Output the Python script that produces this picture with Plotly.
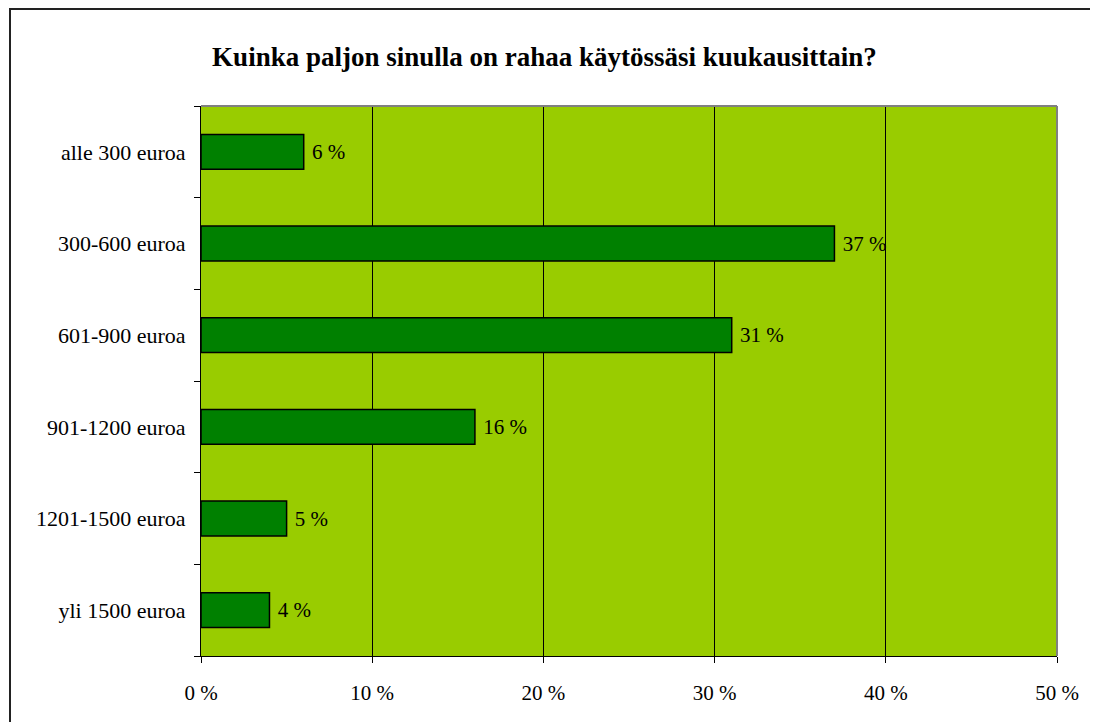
import plotly.graph_objects as go

categories = ["alle 300 euroa", "300-600 euroa", "601-900 euroa",
              "901-1200 euroa", "1201-1500 euroa", "yli 1500 euroa"]
values = [6, 37, 31, 16, 5, 4]
labels = [f" {v} %" for v in values]
title = "Kuinka paljon sinulla on rahaa käytössäsi kuukausittain?"

OFF = 8  # page body margin
W, H = 1098 - OFF, 722 - OFF
L, R, T, B = 201 - OFF, 1057 - OFF, 106 - OFF, 656 - OFF
pw, ph = R - L, B - T
FONT = "Liberation Serif"

fig = go.Figure(go.Bar(
    y=categories, x=values, orientation="h",
    marker=dict(color="#008000", line=dict(color="black", width=1.5)),
    width=0.38,
    text=labels, textposition="outside",
    textfont=dict(family=FONT, size=21, color="black"),
    cliponaxis=False,
))

fig.update_layout(
    width=W, height=H,
    margin=dict(l=L, r=W - R, t=T, b=H - B, pad=0),
    paper_bgcolor="white", plot_bgcolor="#99CC00",
    font=dict(family=FONT, size=21, color="black"),
    title=dict(text="<b>" + title + "</b>", x=(544.5 - OFF) / W, xanchor="center",
               y=1 - (57 - OFF) / H, yanchor="middle",
               font=dict(family=FONT, size=27, color="black")),
    showlegend=False,
)
fig.update_xaxes(range=[0, 50], dtick=10, ticksuffix=" %",
                 showgrid=True, gridcolor="black", gridwidth=1,
                 showline=True, linecolor="black", linewidth=1,
                 ticks="outside", ticklen=6, tickcolor="black",
                 zeroline=False, ticklabelstandoff=12,
                 tickfont=dict(family=FONT, size=21))
fig.update_yaxes(categoryorder="array", categoryarray=categories[::-1],
                 tickson="boundaries", ticks="outside", ticklen=6,
                 tickcolor="black", showline=True, linecolor="black",
                 linewidth=1, showgrid=False, ticklabelstandoff=10,
                 tickfont=dict(family=FONT, size=22))

# plot area top/right border (gray)
fig.add_shape(type="line", xref="paper", yref="paper", x0=0, x1=1, y0=1, y1=1,
              line=dict(color="#808080", width=2))
fig.add_shape(type="line", xref="paper", yref="paper", x0=1, x1=1, y0=0, y1=1,
              line=dict(color="#808080", width=2))
# outer chart border
fig.add_shape(type="rect", xref="paper", yref="paper",
              x0=(2 - L) / pw, x1=(W + 5 - L) / pw,
              y0=(B - (H + 5)) / ph, y1=(B - 1) / ph,
              line=dict(color="#222222", width=2), fillcolor="rgba(0,0,0,0)")

fig.write_html("out.html")
